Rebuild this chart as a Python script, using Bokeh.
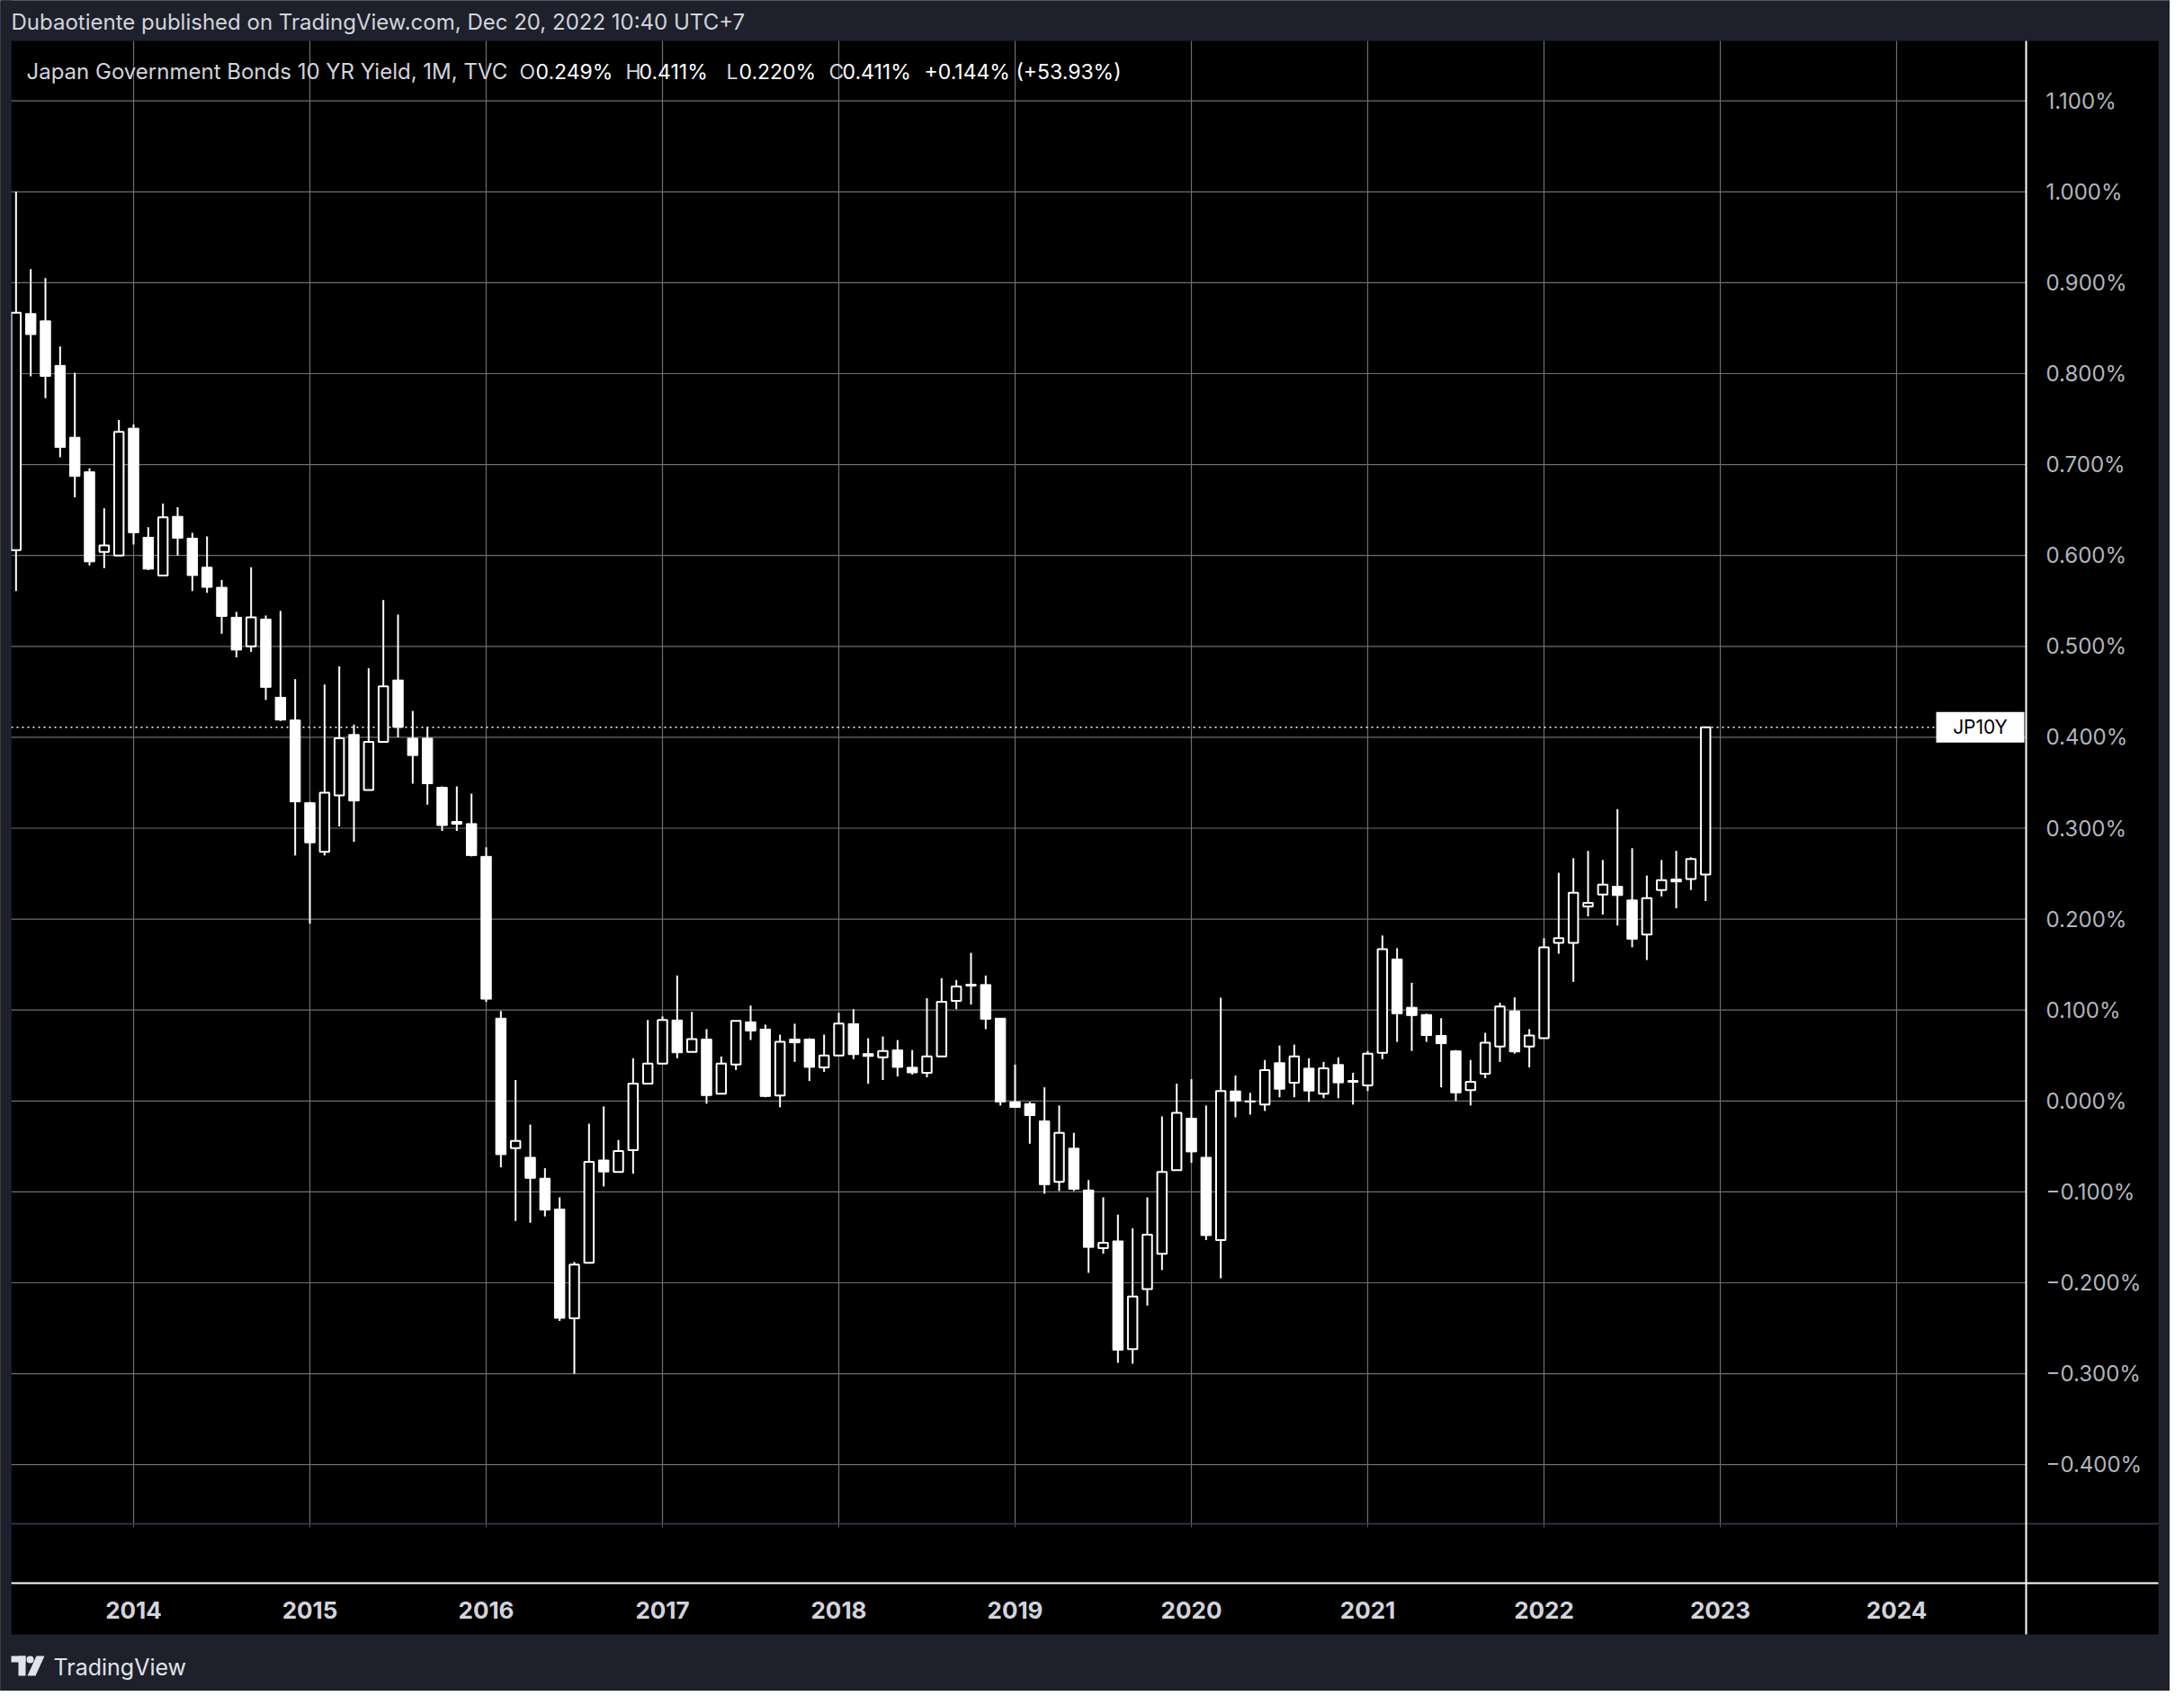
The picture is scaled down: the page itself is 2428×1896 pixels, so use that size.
from bokeh.plotting import figure
from bokeh.models import Range1d, ColumnDataSource
from bokeh.core.properties import value
from bokeh.embed import file_html
from bokeh.resources import INLINE

# ---------------- data (monthly OHLC, May 2013 .. Dec 2022, yield in %) ----------------
start_year, start_month = 2013, 5
opens = [
    0.606, 0.866, 0.858, 0.809, 0.730, 0.692, 0.604, 0.600,
    0.740, 0.620, 0.578, 0.643, 0.619, 0.587, 0.565, 0.532, 0.500, 0.530, 0.444, 0.419,
    0.328, 0.274, 0.336, 0.403, 0.342, 0.395, 0.463, 0.399, 0.399, 0.345, 0.305, 0.305,
    0.269, 0.091, -0.052, -0.062, -0.085, -0.119, -0.239, -0.178, -0.065, -0.078, -0.054, 0.019,
    0.041, 0.089, 0.054, 0.068, 0.008, 0.040, 0.087, 0.079, 0.006, 0.068, 0.068, 0.037,
    0.050, 0.085, 0.052, 0.048, 0.056, 0.037, 0.031, 0.049, 0.110, 0.127, 0.128, 0.091,
    -0.001, -0.003, -0.022, -0.089, -0.052, -0.098, -0.162, -0.154, -0.273, -0.207, -0.168, -0.076,
    -0.019, -0.062, -0.153, 0.011, 0.000, -0.004, 0.042, 0.020, 0.036, 0.008, 0.040, 0.021,
    0.017, 0.053, 0.156, 0.103, 0.095, 0.072, 0.055, 0.012, 0.030, 0.060, 0.099, 0.060,
    0.069, 0.174, 0.174, 0.214, 0.227, 0.236, 0.221, 0.183, 0.232, 0.244, 0.244, 0.249]
highs = [
    1.000, 0.915, 0.905, 0.830, 0.801, 0.696, 0.652, 0.749,
    0.744, 0.631, 0.657, 0.653, 0.625, 0.621, 0.573, 0.538, 0.587, 0.534, 0.539, 0.464,
    0.329, 0.458, 0.478, 0.414, 0.476, 0.551, 0.535, 0.429, 0.411, 0.346, 0.346, 0.338,
    0.279, 0.099, 0.023, -0.026, -0.074, -0.106, -0.177, -0.025, -0.006, -0.043, 0.047, 0.089,
    0.093, 0.138, 0.098, 0.079, 0.049, 0.088, 0.105, 0.084, 0.073, 0.085, 0.069, 0.073,
    0.097, 0.101, 0.069, 0.071, 0.067, 0.056, 0.113, 0.135, 0.133, 0.163, 0.138, 0.091,
    0.040, -0.001, 0.015, -0.005, -0.035, -0.087, -0.106, -0.125, -0.140, -0.106, -0.017, 0.019,
    0.024, -0.005, 0.1135, 0.028, 0.009, 0.045, 0.061, 0.062, 0.047, 0.043, 0.048, 0.031,
    0.055, 0.182, 0.168, 0.130, 0.096, 0.091, 0.056, 0.045, 0.075, 0.108, 0.114, 0.079,
    0.179, 0.251, 0.267, 0.275, 0.265, 0.321, 0.278, 0.248, 0.265, 0.275, 0.268, 0.411]
lows = [
    0.561, 0.797, 0.773, 0.708, 0.664, 0.589, 0.586, 0.600,
    0.612, 0.584, 0.578, 0.600, 0.561, 0.559, 0.514, 0.488, 0.494, 0.441, 0.418, 0.270,
    0.195, 0.270, 0.302, 0.285, 0.342, 0.395, 0.400, 0.349, 0.326, 0.297, 0.297, 0.269,
    0.109, -0.073, -0.132, -0.134, -0.127, -0.242, -0.300, -0.178, -0.094, -0.078, -0.080, 0.019,
    0.041, 0.047, 0.054, -0.003, 0.008, 0.034, 0.067, 0.004, -0.007, 0.043, 0.022, 0.032,
    0.050, 0.046, 0.019, 0.023, 0.027, 0.029, 0.026, 0.049, 0.101, 0.106, 0.079, -0.005,
    -0.007, -0.047, -0.102, -0.099, -0.099, -0.189, -0.168, -0.288, -0.289, -0.225, -0.186, -0.076,
    -0.068, -0.153, -0.195, -0.018, -0.015, -0.011, 0.004, 0.004, -0.001, 0.003, 0.003, -0.004,
    0.011, 0.046, 0.065, 0.055, 0.065, 0.015, 0.000, -0.005, 0.025, 0.043, 0.052, 0.037,
    0.069, 0.162, 0.131, 0.203, 0.205, 0.193, 0.169, 0.155, 0.225, 0.212, 0.232, 0.220]
closes = [
    0.867, 0.843, 0.797, 0.719, 0.687, 0.593, 0.611, 0.736,
    0.625, 0.585, 0.642, 0.619, 0.578, 0.565, 0.533, 0.496, 0.532, 0.455, 0.419, 0.329,
    0.284, 0.339, 0.399, 0.330, 0.395, 0.456, 0.411, 0.380, 0.349, 0.303, 0.307, 0.270,
    0.112, -0.059, -0.044, -0.085, -0.120, -0.239, -0.180, -0.067, -0.078, -0.055, 0.019, 0.041,
    0.089, 0.053, 0.068, 0.006, 0.041, 0.088, 0.077, 0.005, 0.065, 0.064, 0.037, 0.050,
    0.085, 0.051, 0.049, 0.055, 0.037, 0.031, 0.049, 0.109, 0.126, 0.128, 0.090, -0.001,
    -0.007, -0.016, -0.092, -0.035, -0.097, -0.161, -0.156, -0.274, -0.215, -0.147, -0.078, -0.013,
    -0.056, -0.148, 0.011, 0.000, -0.001, 0.034, 0.013, 0.049, 0.011, 0.036, 0.020, 0.022,
    0.052, 0.167, 0.096, 0.094, 0.072, 0.063, 0.009, 0.021, 0.064, 0.104, 0.054, 0.072,
    0.169, 0.179, 0.229, 0.218, 0.238, 0.226, 0.178, 0.223, 0.243, 0.241, 0.266, 0.411]

price_ticks = [1.1, 1.0, 0.9, 0.8, 0.7, 0.6, 0.5, 0.4, 0.3, 0.2, 0.1, 0.0, -0.1, -0.2, -0.3, -0.4]
price_labels = ["1.100%", "1.000%", "0.900%", "0.800%", "0.700%", "0.600%", "0.500%", "0.400%",
                "0.300%", "0.200%", "0.100%", "0.000%", "\u22120.100%", "\u22120.200%",
                "\u22120.300%", "\u22120.400%"]
years = [2014, 2015, 2016, 2017, 2018, 2019, 2020, 2021, 2022, 2023, 2024]
year_labels = ["2014", "2015", "2016", "2017", "2018", "2019", "2020", "2021", "2022", "2023", "2024"]

header = "Dubaotiente published on TradingView.com, Dec 20, 2022 10:40 UTC+7"
symbol_title = "Japan Government Bonds 10 YR Yield, 1M, TVC"
legend_parts = ["O", "0.249%", "H", "0.411%", "L", "0.220%", "C", "0.411%", "+0.144% (+53.93%)"]
ticker = "JP10Y"

# ---------------- layout (pixels) ----------------
W, H = 2412, 1880
PX_2014 = 148.0       # x pixel of Jan 2014
PX_MONTH = 196.0 / 12  # pixels per month
PY_ZERO = 1223.8      # y pixel (from top) of 0 %
PY_PCT = 1011.0       # pixels per 1 %

NAVY = "#1e212b"
BLACK = "#000000"
GRID = "#6f6f6f"
TXT = "#d1d4dc"
AXT = "#b2b5be"
FONT = value("Inter")


def dx(px):
    return (px - PX_2014) / PX_MONTH


def dy(py):
    return (PY_ZERO - py) / PY_PCT


n = len(closes)
idx = [(start_year - 2014) * 12 + (start_month - 1) + k for k in range(n)]

p = figure(width=W, height=H,
           x_range=Range1d(dx(0), dx(W)), y_range=Range1d(dy(H), dy(0)),
           output_backend="svg", toolbar_location=None,
           x_axis_location=None, y_axis_location=None, min_border=0,
           background_fill_color=NAVY, border_fill_color=NAVY, outline_line_color=None)

# full background + black pane
p.quad(left=dx(-5), right=dx(W + 5), top=dy(-5), bottom=dy(H + 5), fill_color=NAVY, line_color=None)
p.quad(left=dx(12), right=dx(2399), top=dy(45), bottom=dy(1817), fill_color=BLACK, line_color=None)

# grid lines (chart area only)
p.segment(x0=dx(12), x1=dx(2252), y0=price_ticks, y1=price_ticks, line_color=GRID, line_width=1.2)
year_x = [(y - 2014) * 12 for y in years]
p.segment(x0=year_x, x1=year_x, y0=dy(45), y1=dy(1694), line_color=GRID, line_width=1.2)

# pane separators
p.segment(x0=[dx(12)], x1=[dx(2399)], y0=[dy(1694)], y1=[dy(1694)], line_color="#2f3340", line_width=2)
p.segment(x0=year_x, x1=year_x, y0=dy(1694), y1=dy(1698), line_color="#55585f", line_width=1)
p.segment(x0=[dx(12)], x1=[dx(2399)], y0=[dy(1760)], y1=[dy(1760)], line_color="white", line_width=2)
p.segment(x0=[dx(2252)], x1=[dx(2252)], y0=[dy(45)], y1=[dy(1817)], line_color="white", line_width=2)

# last price dotted line
last = closes[-1]
p.segment(x0=[dx(12)], x1=[dx(2152)], y0=[last], y1=[last], line_color="white", line_width=1.5,
          line_dash="2 4")

# candles
src = ColumnDataSource(dict(x=idx, o=opens, h=highs, l=lows, c=closes))
p.segment(x0="x", x1="x", y0="l", y1="h", source=src, line_color="white", line_width=2)
up_x = [x for x, o, c in zip(idx, opens, closes) if c >= o]
up_o = [o for o, c in zip(opens, closes) if c >= o]
up_c = [c for o, c in zip(opens, closes) if c >= o]
dn_x = [x for x, o, c in zip(idx, opens, closes) if c < o]
dn_o = [o for o, c in zip(opens, closes) if c < o]
dn_c = [c for o, c in zip(opens, closes) if c < o]
p.vbar(x=dn_x, width=0.70, top=dn_o, bottom=dn_c, fill_color="white", line_color="white", line_width=1)
p.vbar(x=up_x, width=0.64, top=up_c, bottom=up_o, fill_color=BLACK, line_color="white", line_width=2)

# cover left overflow with frame colour
p.quad(left=dx(-5), right=dx(12), top=dy(-5), bottom=dy(H + 5), fill_color=NAVY, line_color=None)

# ticker label
half = 17 / PY_PCT
p.quad(left=dx(2152), right=dx(2250), top=last + half, bottom=last - half, fill_color="white", line_color=None)
p.text(x=[dx(2201)], y=[last], text=[ticker], text_align="center", text_baseline="middle",
       text_font=FONT, text_font_size="21px", text_color="black")

# price axis labels
p.text(x=dx(2274), y=price_ticks, text=price_labels, text_align="left", text_baseline="middle",
       text_font=FONT, text_font_size="24px", text_color=AXT)

# time axis labels
p.text(x=year_x, y=dy(1790), text=year_labels, text_align="center", text_baseline="middle",
       text_font=FONT, text_font_size="26px", text_font_style="bold", text_color=TXT)

# header
p.text(x=[dx(12)], y=[dy(24)], text=[header], text_align="left", text_baseline="middle",
       text_font=FONT, text_font_size="24px", text_color=TXT)

# legend line
p.text(x=[dx(29)], y=[dy(79)], text=[symbol_title], text_align="left", text_baseline="middle",
       text_font=FONT, text_font_size="24px", text_color=TXT)
leg_px = [577, 595, 695, 710, 807, 821, 921, 936, 1027]
leg_col = [TXT, "white", TXT, "white", TXT, "white", TXT, "white", "white"]
p.text(x=[dx(v) for v in leg_px], y=dy(79), text=legend_parts, text_align="left", text_baseline="middle",
       text_font=FONT, text_font_size="23px", text_color=leg_col)

# TradingView logo
p.quad(left=dx(12), right=dx(28), top=dy(1841), bottom=dy(1848), fill_color="#e0e3eb", line_color=None)
p.quad(left=dx(20), right=dx(28), top=dy(1841), bottom=dy(1863), fill_color="#e0e3eb", line_color=None)
p.scatter(x=[dx(33)], y=[dy(1845)], size=8, fill_color="#e0e3eb", line_color=None)
p.patch(x=[dx(40), dx(49), dx(39), dx(30)], y=[dy(1841), dy(1841), dy(1863), dy(1863)],
        fill_color="#e0e3eb", line_color=None)
p.text(x=[dx(59)], y=[dy(1853)], text=["TradingView"], text_align="left", text_baseline="middle",
       text_font=FONT, text_font_size="25px", text_color="#e0e3eb")

open("out.html", "w").write(file_html(p, INLINE))
